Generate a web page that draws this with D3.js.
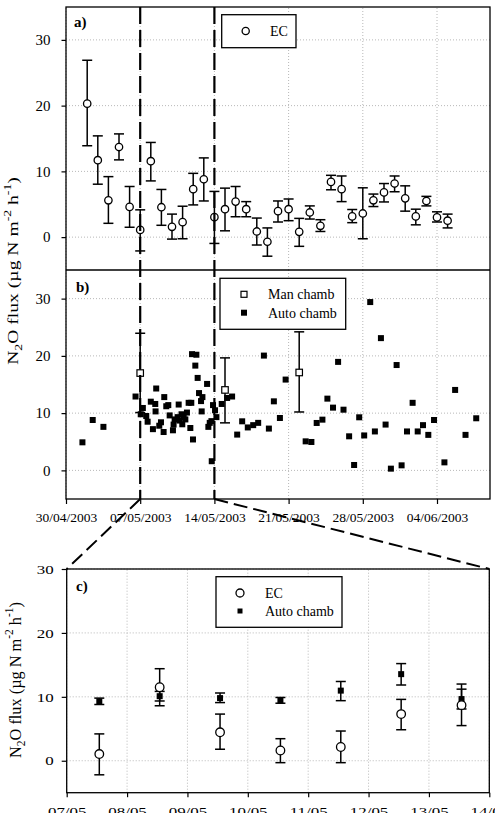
<!DOCTYPE html>
<html>
<head>
<meta charset="utf-8">
<script src="https://cdn.jsdelivr.net/npm/d3@7"></script>
<style>
body { margin: 0; background: #fff; }
svg { display: block; font-family: "Liberation Serif", "Times New Roman", serif; }
</style>
</head>
<body>
<script>
// panel a: EC daily means, day of year 2003
var ecDoy = [122, 123, 124, 125, 126, 127, 128, 129, 130, 131, 132, 133, 134, 135, 136, 137, 138, 139,
    140, 141, 142, 143, 144, 145, 146, 147, 148, 149, 150, 151, 152, 153, 154, 155, 156];
var ecFlux = [20.3, 11.7, 5.6, 13.7, 4.6, 1.1, 11.55, 4.55, 1.57, 2.28, 7.3, 8.8, 3.04, 4.25, 5.4, 4.25, 0.86, -0.7,
    3.95, 4.25, 0.8, 3.75, 1.72, 8.4, 7.3, 3.15, 3.6, 5.6, 6.8, 8.15, 5.9, 3.15, 5.5, 3.0, 2.5];
var ecLow = [13.9, 8.05, 2.1, 11.75, 1.5, -2.1, 8.55, 1.8, -0.3, -0.25, 4.9, 5.5, -0.96, 0.96, 3.1, 3.1, -1.2, -2.9,
    2.3, 2.5, -1.4, 2.75, 0.86, 7.2, 5.4, 2.2, -0.25, 4.65, 5.35, 6.9, 3.95, 1.87, 4.75, 2.3, 1.4];
var ecHigh = [26.9, 15.4, 9.2, 15.7, 7.7, 4.15, 14.4, 7.25, 3.5, 4.7, 9.7, 12.05, 6.95, 7.45, 7.7, 5.4, 2.9, 1.4,
    5.5, 5.8, 2.85, 4.75, 2.65, 9.4, 9.3, 4.2, 7.5, 6.55, 8.15, 9.3, 7.8, 4.25, 6.2, 3.85, 3.5];

// panel b: manual chambers
var manDoy = [127, 135, 142];
var manFlux = [17.0, 14.05, 17.1];
var manLow = [10.1, 8.3, 10.2];
var manHigh = [23.95, 19.65, 24.2];

// panel b: automatic chambers
var autoDoy = [121.55, 122.52, 123.53, 126.56, 127.05, 127.25, 127.57, 127.7, 128.0, 128.42, 128.51, 128.45, 128.2,
    128.8, 128.96, 129.21, 129.27, 129.46, 129.65, 129.78, 130.09, 130.15, 130.25, 130.53, 130.63, 130.72, 130.9,
    130.97, 131.1, 131.26, 131.41, 131.57, 131.73, 131.82, 131.89, 131.98, 132.2, 132.3, 132.42, 132.55, 132.74,
    132.8, 132.87, 133.31, 133.43, 133.56, 133.72, 133.75, 133.87, 134.06, 134.19, 134.69, 135.2, 135.67, 136.15,
    136.62, 137.15, 137.66, 138.13, 138.67, 139.14, 139.61, 140.18, 140.72, 142.61, 143.15, 143.65, 144.19, 144.66,
    145.19, 145.67, 146.18, 146.71, 147.18, 147.66, 148.13, 148.7, 149.14, 149.71, 150.15, 150.65, 151.19, 151.66,
    152.17, 152.7, 153.18, 153.68, 154.18, 154.72, 155.7, 156.71, 157.69, 158.7];
var autoFlux = [4.9, 8.8, 7.6, 12.9, 9.8, 10.9, 9.5, 8.5, 12.0, 11.6, 14.3, 10.3, 7.2,
    7.8, 8.4, 6.7, 12.8, 11.2, 11.4, 9.6, 7.0, 8.0, 8.9, 9.3, 11.5, 8.7, 9.8,
    8.05, 9.3, 8.9, 10.1, 11.8, 7.4, 11.8, 20.3, 5.4, 18.3, 20.2, 16.15, 13.5, 12.1,
    10.3, 12.8, 15.1, 7.6, 8.3, 8.6, 1.6, 11.4, 10.5, 9.3, 11.6, 12.65, 12.9, 6.25,
    8.57, 7.5, 7.9, 8.3, 20.05, 7.3, 12.06, 9.15, 15.86, 5.07, 4.96, 8.28, 8.86, 12.53,
    10.96, 18.95, 10.6, 5.95, 0.94, 9.27, 6.1, 29.4, 6.8, 23.1, 8.0, 0.3, 18.4, 0.88,
    6.8, 11.8, 6.8, 7.9, 6.2, 8.8, 1.4, 14.05, 6.2, 9.1];

// panel c: 07/05 - 14/05 comparison
var zoomDoy = [127.54, 128.54, 129.54, 130.54, 131.54, 132.54, 133.54];
var zoomEcFlux = [1.05, 11.5, 4.45, 1.6, 2.15, 7.3, 8.7];
var zoomEcLow = [-2.2, 8.6, 1.8, -0.3, -0.3, 4.85, 5.5];
var zoomEcHigh = [4.2, 14.4, 7.3, 3.45, 4.65, 9.6, 12.0];
var zoomAutoFlux = [9.3, 10.1, 9.8, 9.45, 10.97, 13.55, 9.65];
var zoomAutoLow = [8.8, 9.35, 9.1, 9.0, 9.4, 11.85, 8.1];
var zoomAutoHigh = [9.8, 10.85, 10.6, 9.9, 12.4, 15.2, 11.2];

var fluxTicks = [0, 10, 20, 30];
var dateTicks = ["30/04/2003", "07/05/2003", "14/05/2003", "21/05/2003", "28/05/2003", "04/06/2003"];
var dayTicks = ["07/05/2003", "08/05/2003", "09/05/2003", "10/05/2003", "11/05/2003", "12/05/2003", "13/05/2003", "14/05/2003"];

var parseDay = d3.utcParse("%d/%m/%Y");
function doyDate(doy) { return new Date(Date.UTC(2003, 0, 1) + (doy - 1) * 864e5); }

var svg = d3.select("body").append("svg").attr("width", 495).attr("height", 813);

var x = d3.scaleUtc().domain([parseDay("30/04/2003"), parseDay("09/06/2003")]).range([66, 490]);
var yA = d3.scaleLinear().domain([-5, 35]).range([270, 7]);
var yB = d3.scaleLinear().domain([-5, 35]).range([499, 270]);
var xC = d3.scaleUtc().domain([parseDay("07/05/2003"), parseDay("14/05/2003")]).range([66.7, 489.3]);
var yC = d3.scaleLinear().domain([-5, 30]).range([792.7, 569]);

function grid(xs, ys, xVals, yVals) {
    var g = svg.append("g").attr("stroke", "#b8b8b8").attr("stroke-width", 1).attr("stroke-dasharray", "1,2");
    g.selectAll(null).data(yVals).enter().append("line")
        .attr("x1", xs.range()[0]).attr("x2", xs.range()[1])
        .attr("y1", function(d) { return ys(d); }).attr("y2", function(d) { return ys(d); });
    g.selectAll(null).data(xVals).enter().append("line")
        .attr("x1", function(d) { return xs(d); }).attr("x2", function(d) { return xs(d); })
        .attr("y1", ys.range()[0]).attr("y2", ys.range()[1]);
}

function errorBars(xs, ys, doys, lo, hi, half) {
    var g = svg.append("g").attr("stroke", "#000").attr("stroke-width", 1.5);
    var idx = d3.range(doys.length);
    var cx = function(i) { return xs(doyDate(doys[i])); };
    g.selectAll(null).data(idx).enter().append("line")
        .attr("x1", cx).attr("x2", cx)
        .attr("y1", function(i) { return ys(lo[i]); }).attr("y2", function(i) { return ys(hi[i]); });
    [lo, hi].forEach(function(arr) {
        g.selectAll(null).data(idx).enter().append("line")
            .attr("x1", function(i) { return cx(i) - half; }).attr("x2", function(i) { return cx(i) + half; })
            .attr("y1", function(i) { return ys(arr[i]); }).attr("y2", function(i) { return ys(arr[i]); });
    });
}

function circles(xs, ys, doys, vals, r) {
    svg.append("g").selectAll(null).data(d3.range(doys.length)).enter().append("circle")
        .attr("cx", function(i) { return xs(doyDate(doys[i])); })
        .attr("cy", function(i) { return ys(vals[i]); })
        .attr("r", r).attr("fill", "#fff").attr("stroke", "#000").attr("stroke-width", 1.3);
}

function squares(xs, ys, doys, vals, s, open) {
    svg.append("g").selectAll(null).data(d3.range(doys.length)).enter().append("rect")
        .attr("x", function(i) { return xs(doyDate(doys[i])) - s / 2; })
        .attr("y", function(i) { return ys(vals[i]) - s / 2; })
        .attr("width", s).attr("height", s)
        .attr("fill", open ? "#fff" : "#000").attr("stroke", "#000").attr("stroke-width", open ? 1.2 : 0);
}

var dates = dateTicks.map(parseDay);
var days = dayTicks.map(parseDay);

grid(x, yA, dates, fluxTicks);
grid(x, yB, dates, fluxTicks);
grid(xC, yC, days, fluxTicks);

// panel a
errorBars(x, yA, ecDoy, ecLow, ecHigh, 5);
circles(x, yA, ecDoy, ecFlux, 3.7);

// panel b
squares(x, yB, autoDoy, autoFlux, 6, false);
errorBars(x, yB, manDoy, manLow, manHigh, 5);
squares(x, yB, manDoy, manFlux, 6.5, true);

// panel c
errorBars(xC, yC, zoomDoy, zoomAutoLow, zoomAutoHigh, 5);
errorBars(xC, yC, zoomDoy, zoomEcLow, zoomEcHigh, 5);
squares(xC, yC, zoomDoy, zoomAutoFlux, 6, false);
circles(xC, yC, zoomDoy, zoomEcFlux, 4.3);

// 07/05 and 14/05 markers + zoom connectors
var marks = [parseDay("07/05/2003"), parseDay("14/05/2003")];
svg.append("g").selectAll(null).data(marks).enter().append("line")
    .attr("x1", function(d) { return x(d); }).attr("x2", function(d) { return x(d); })
    .attr("y1", 7).attr("y2", 499)
    .attr("stroke", "#000").attr("stroke-width", 2.2).attr("stroke-dasharray", "17,6");
svg.append("g").selectAll(null).data([0, 1]).enter().append("line")
    .attr("x1", function(i) { return x(marks[i]); }).attr("y1", 499)
    .attr("x2", function(i) { return xC.range()[i]; }).attr("y2", 569)
    .attr("stroke", "#000").attr("stroke-width", 2).attr("stroke-dasharray", "14,6");

// frames
svg.append("rect").attr("x", 66).attr("y", 7).attr("width", 424).attr("height", 492)
    .attr("fill", "none").attr("stroke", "#000").attr("stroke-width", 1.3);
svg.append("line").attr("x1", 66).attr("x2", 490).attr("y1", yA(-5)).attr("y2", yA(-5))
    .attr("stroke", "#000").attr("stroke-width", 1.3);
svg.append("rect").attr("x", 66.7).attr("y", 569).attr("width", 422.6).attr("height", 223.7)
    .attr("fill", "none").attr("stroke", "#000").attr("stroke-width", 1.3);

function styleAxis(g, size) {
    g.select(".domain").remove();
    g.attr("font-family", null).attr("font-size", size);
    g.selectAll(".tick line").attr("stroke", "#000").attr("stroke-width", 1.2);
    g.selectAll(".tick text").attr("fill", "#000");
}
function stretch(g, k) {
    g.selectAll(".tick text").each(function() {
        var w = this.getComputedTextLength();
        d3.select(this).attr("textLength", w * k).attr("lengthAdjust", "spacingAndGlyphs");
    });
}

svg.append("g").attr("transform", "translate(66,0)")
    .call(d3.axisLeft(yA).tickValues(fluxTicks).tickSize(4.5).tickPadding(11))
    .call(styleAxis, 15);
svg.append("g").attr("transform", "translate(66,0)")
    .call(d3.axisLeft(yB).tickValues(fluxTicks).tickSize(4.5).tickPadding(11))
    .call(styleAxis, 15);
svg.append("g").attr("transform", "translate(0,499)")
    .call(d3.axisBottom(x).tickValues(dates).tickFormat(d3.utcFormat("%d/%m/%Y")).tickSize(5).tickPadding(8))
    .call(styleAxis, 13.5);
svg.append("g").attr("transform", "translate(66.7,0)")
    .call(d3.axisLeft(yC).tickValues(fluxTicks).tickSize(5).tickPadding(8))
    .call(styleAxis, 13).call(stretch, 1.3);
svg.append("g").attr("transform", "translate(0,792.7)")
    .call(d3.axisBottom(xC).tickValues(days).tickFormat(d3.utcFormat("%d/%m")).tickSize(4.5).tickPadding(9.5))
    .call(styleAxis, 13).call(stretch, 1.3);

// y titles
function yTitle(cx, cy, size, len) {
    var t = svg.append("text").attr("font-size", size).attr("text-anchor", "middle").attr("fill", "#000");
    t.append("tspan").text("N");
    t.append("tspan").attr("font-size", size * 0.7).attr("dy", size * 0.3).text("2");
    t.append("tspan").attr("dy", -size * 0.3).text("O flux (\u00b5g N m");
    t.append("tspan").attr("font-size", size * 0.7).attr("dy", -size * 0.45).text("-2");
    t.append("tspan").attr("dy", size * 0.45).text(" h");
    t.append("tspan").attr("font-size", size * 0.7).attr("dy", -size * 0.45).text("-1");
    t.append("tspan").attr("dy", size * 0.45).text(")");
    var w = t.node().getBBox().width;
    t.attr("transform", "translate(" + cx + "," + cy + ") rotate(-90) scale(" + (len / w) + ",1)");
}
yTitle(17.5, 271, 14.5, 188);
yTitle(20.5, 680, 16.5, 156);

// legends
function legendBox(x0, y0, w, h) {
    svg.append("rect").attr("x", x0).attr("y", y0).attr("width", w).attr("height", h)
        .attr("fill", "#fff").attr("stroke", "#000").attr("stroke-width", 1.3);
}
function legendText(tx, ty, s) {
    svg.append("text").attr("x", tx).attr("y", ty).attr("font-size", 14).attr("fill", "#000").text(s);
}
legendBox(221.7, 14.7, 74.3, 33);
svg.append("circle").attr("cx", 245.7).attr("cy", 31).attr("r", 3.6)
    .attr("fill", "#fff").attr("stroke", "#000").attr("stroke-width", 1.3);
legendText(270, 36, "EC");

legendBox(220, 278.3, 125.7, 51);
svg.append("rect").attr("x", 241).attr("y", 291.3).attr("width", 6).attr("height", 6)
    .attr("fill", "#fff").attr("stroke", "#000").attr("stroke-width", 1.2);
svg.append("rect").attr("x", 241).attr("y", 309.7).attr("width", 6).attr("height", 6).attr("fill", "#000");
legendText(268, 299, "Man chamb");
legendText(268, 317.5, "Auto chamb");

legendBox(216, 576.7, 126, 50.6);
svg.append("circle").attr("cx", 240).attr("cy", 593).attr("r", 4)
    .attr("fill", "#fff").attr("stroke", "#000").attr("stroke-width", 1.3);
svg.append("rect").attr("x", 237.5).attr("y", 608.5).attr("width", 5).attr("height", 5).attr("fill", "#000");
legendText(265, 598, "EC");
legendText(265, 616, "Auto chamb");

// panel letters
[["a)", 74, 27], ["b)", 76, 292], ["c)", 76, 591]].forEach(function(p) {
    svg.append("text").attr("x", p[1]).attr("y", p[2]).attr("font-size", 15).attr("font-weight", "bold")
        .attr("fill", "#000").text(p[0]);
});
</script>
</body>
</html>
